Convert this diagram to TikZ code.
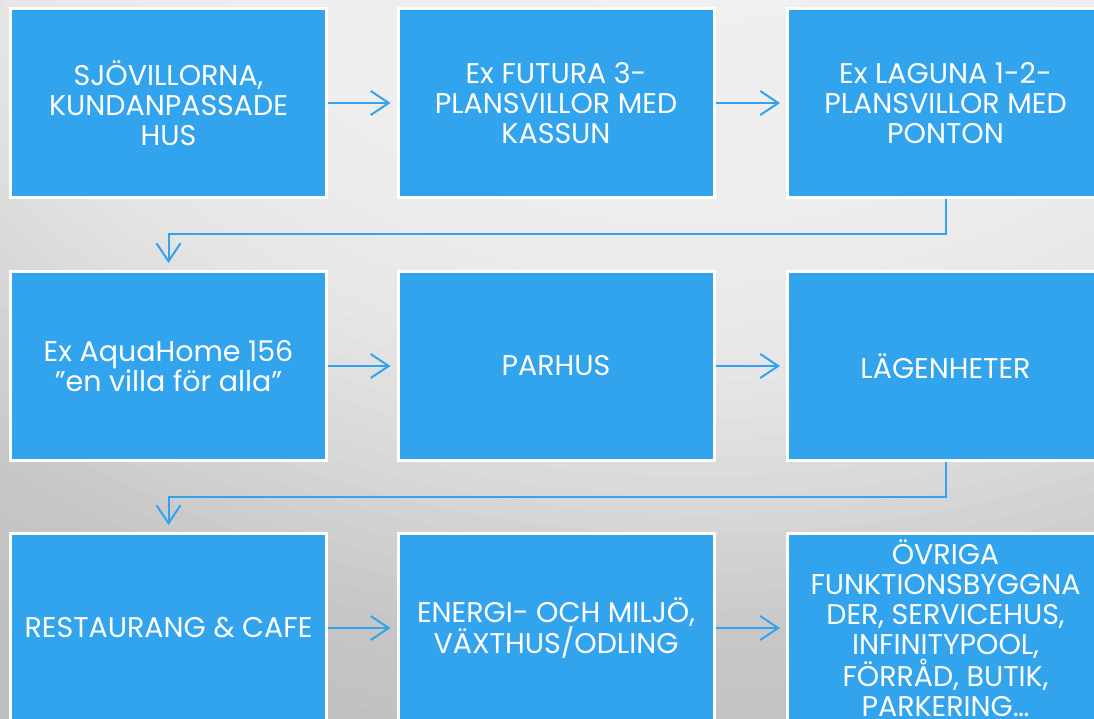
\documentclass[tikz,border=0pt]{standalone}
\usepackage{fontspec}
\setmainfont{Poppins}
\usetikzlibrary{arrows.meta}
\definecolor{boxblue}{RGB}{49,164,237}
\definecolor{bgF}{RGB}{190,190,190}
\begin{document}
\begin{tikzpicture}[x=1pt,y=-1pt,
  stepbox/.style={draw=white,line width=3pt,fill=boxblue,minimum width=316pt,minimum height=189pt,
    text=white,align=center,font=\fontsize{28.5}{30}\selectfont,inner sep=0pt},
  conn/.style={draw=boxblue,line width=2pt,-{Straight Barb[length=18pt,width=24pt]}}]
\useasboundingbox (0,0) rectangle (1094,718);
\begin{scope}
\clip (0,0) rectangle (1094,718);
\fill[bgF] (0,0) rectangle (1094,718);
\foreach \k in {0,...,55}{
  \pgfmathsetmacro\rr{1.1-\k*0.02}
  \pgfmathsetmacro\gv{\rr<=0.45 ? 242-6*\rr/0.45 : (\rr<=0.56 ? 236-6*(\rr-0.45)/0.11 : (\rr<=0.7 ? 230-14*(\rr-0.56)/0.14 : (\rr<=0.86 ? 216-18*(\rr-0.7)/0.16 : (\rr<=1 ? 198-8*(\rr-0.86)/0.14 : 190))))}
  \pgfmathsetmacro\gg{\gv/255}
  \definecolor{bgtmp}{gray}{\gg}
  \fill[bgtmp] (700,-150) ellipse [x radius=1300*\rr, y radius=950*\rr];
}
\end{scope}
\node[stepbox] (b1) at (168.5,103) {SJÖVILLORNA,\\KUNDANPASSADE\\HUS};
\node[stepbox] (b2) at (556,103) {Ex FUTURA 3-\\PLANSVILLOR MED\\KASSUN};
\node[stepbox] (b3) at (945.5,103) {Ex LAGUNA 1-2-\\PLANSVILLOR MED\\PONTON};
\node[stepbox] (b4) at (168.5,366) {Ex AquaHome 156\\”en villa för alla”};
\node[stepbox] (b5) at (556,366) {PARHUS};
\node[stepbox] (b6) at (945.5,366) {LÄGENHETER};
\node[stepbox] (b7) at (168.5,628) {RESTAURANG \& CAFE};
\node[stepbox] (b8) at (556,628) {ENERGI- OCH MILJÖ,\\VÄXTHUS/ODLING};
\node[stepbox] (b9) at (945.5,628) {ÖVRIGA\\FUNKTIONSBYGGNA\\DER, SERVICEHUS,\\INFINITYPOOL,\\FÖRRÅD, BUTIK,\\PARKERING…};
\draw[conn,shorten >=6pt] (b1) -- (b2);
\draw[conn,shorten >=6pt] (b2) -- (b3);
\draw[conn,shorten >=6pt] (b4) -- (b5);
\draw[conn,shorten >=6pt] (b5) -- (b6);
\draw[conn,shorten >=6pt] (b7) -- (b8);
\draw[conn,shorten >=6pt] (b8) -- (b9);
\draw[conn,shorten >=7pt] (b3.south) -- (b3.south |- 0,234) -| (b4.north);
\draw[conn,shorten >=7pt] (b6.south) -- (b6.south |- 0,497) -| (b7.north);
\end{tikzpicture}
\end{document}
